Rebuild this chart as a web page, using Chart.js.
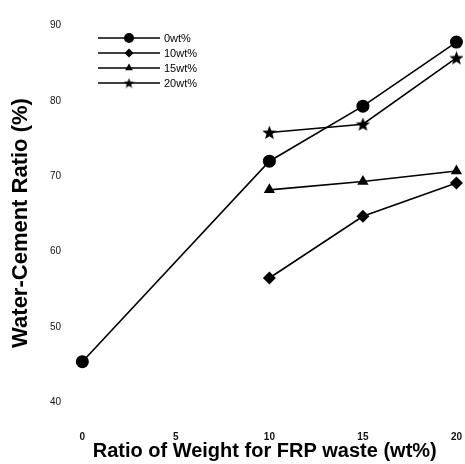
<!DOCTYPE html>
<html>
<head>
<meta charset="utf-8">
<script src="https://cdn.jsdelivr.net/npm/chart.js@4.4.0/dist/chart.umd.min.js"></script>
<style>
  html, body { margin: 0; padding: 0; background: #fff; }
  #wrap { width: 465px; height: 464px; }
</style>
</head>
<body>
<div id="wrap"><canvas id="wcChart" width="465" height="464"></canvas></div>
<script>
// data
const xValues = [0, 10, 15, 20];
const seriesNames = ['0wt%', '10wt%', '15wt%', '20wt%'];
const wt0 = [45.4, 72.0, 79.3, 87.8];
const wt10 = [null, 56.5, 64.7, 69.1];
const wt15 = [null, 68.2, 69.3, 70.7];
const wt20 = [null, 75.8, 76.9, 85.7];
const xTicks = [0, 5, 10, 15, 20];
const yTicks = [40, 50, 60, 70, 80, 90];

const FONT = '"Liberation Sans", Arial, sans-serif';

function makeStar(size) {
    let c = document.createElement('canvas');
    c.width = size;
    c.height = size;
    let ctx = c.getContext('2d');
    let cx = size / 2, cy = size / 2 + 0.5, outer = size / 2, inner = outer * 0.42;
    ctx.beginPath();
    for (let i = 0; i < 10; i++) {
        let r = i % 2 === 0 ? outer : inner;
        let a = -Math.PI / 2 + i * Math.PI / 5;
        ctx.lineTo(cx + r * Math.cos(a), cy + r * Math.sin(a));
    }
    ctx.closePath();
    ctx.fillStyle = '#000';
    ctx.fill();
    return c;
}

const styles = [
    { pointStyle: 'circle', radius: 6.5, legendStyle: 'circle', legendRadius: 5 },
    { pointStyle: 'rectRot', radius: 6.5, legendStyle: 'rectRot', legendRadius: 4.5 },
    { pointStyle: 'triangle', radius: 6.5, legendStyle: 'triangle', legendRadius: 4.5 },
    { pointStyle: makeStar(15), radius: 7, legendStyle: makeStar(11), legendRadius: 5 }
];

const allSeries = [wt0, wt10, wt15, wt20];

function toPoints(values) {
    return xValues.map(function (x, i) {
        return { x: x, y: values[i] };
    }).filter(function (p) { return p.y !== null; });
}

const datasets = allSeries.map(function (values, i) {
    return {
        label: seriesNames[i],
        data: toPoints(values),
        borderColor: '#000',
        backgroundColor: '#000',
        borderWidth: 1.6,
        pointStyle: styles[i].pointStyle,
        pointRadius: styles[i].radius,
        pointBorderWidth: 0,
        clip: false,
        fill: false,
        tension: 0
    };
});

// legend inside the plot: a line with the marker in the middle
const insideLegend = {
    id: 'insideLegend',
    afterDraw: function (chart) {
        let ctx = chart.ctx;
        let rows = [38, 53, 68, 83];
        ctx.save();
        chart.data.datasets.forEach(function (ds, i) {
            let y = rows[i];
            ctx.strokeStyle = '#000';
            ctx.lineWidth = 1.6;
            ctx.beginPath();
            ctx.moveTo(98, y);
            ctx.lineTo(160, y);
            ctx.stroke();
            ctx.fillStyle = '#000';
            Chart.helpers.drawPoint(ctx, {
                pointStyle: styles[i].legendStyle,
                radius: styles[i].legendRadius,
                rotation: 0,
                borderWidth: 0
            }, 129, y);
            ctx.font = '11px ' + FONT;
            ctx.textBaseline = 'middle';
            ctx.textAlign = 'left';
            ctx.fillText(ds.label, 164, y + 1);
        });
        ctx.restore();
    }
};

let chart = new Chart(document.getElementById('wcChart').getContext('2d'), {
    type: 'line',
    data: { datasets: datasets },
    options: {
        responsive: false,
        animation: false,
        devicePixelRatio: 1,
        layout: { padding: { left: 4, right: 7, top: 10, bottom: 0 } },
        plugins: {
            legend: { display: false },
            tooltip: { enabled: false }
        },
        scales: {
            x: {
                type: 'linear',
                min: -0.5,
                max: 20,
                afterBuildTicks: function (scale) {
                    scale.ticks = xTicks.map(function (v) { return { value: v }; });
                },
                afterFit: function (scale) { scale.height = 36; },
                grid: { display: false, drawTicks: false },
                border: { display: false },
                ticks: {
                    color: '#111',
                    padding: 3,
                    maxRotation: 0,
                    font: { family: FONT, size: 10, weight: 'bold' }
                },
                title: {
                    display: true,
                    text: 'Ratio of Weight for FRP waste (wt%)',
                    color: '#000',
                    padding: { top: 0, bottom: 1 },
                    font: { family: FONT, size: 20, weight: 'bold' }
                }
            },
            y: {
                type: 'linear',
                min: 36.6,
                max: 91,
                afterBuildTicks: function (scale) {
                    scale.ticks = yTicks.map(function (v) { return { value: v }; });
                },
                afterFit: function (scale) { scale.width = 69; },
                grid: { display: false, drawTicks: false },
                border: { display: false },
                ticks: {
                    color: '#111',
                    padding: 12,
                    font: { family: FONT, size: 10 }
                },
                title: {
                    display: true,
                    text: 'Water-Cement Ratio (%)',
                    color: '#000',
                    padding: { top: 4, bottom: 0 },
                    font: { family: FONT, size: 22, weight: 'bold' }
                }
            }
        }
    },
    plugins: [insideLegend]
});
</script>
</body>
</html>
